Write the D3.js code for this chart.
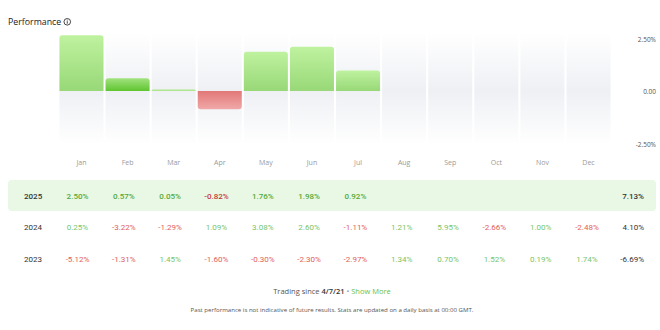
<!DOCTYPE html>
<html><head><meta charset="utf-8">
<script src="https://cdn.jsdelivr.net/npm/d3@7"></script>
<style>
html,body{margin:0;padding:0;background:#fff;}
svg{display:block;}
</style></head>
<body>
<svg id="chart" width="660" height="330"></svg>
<script>
const months = ["Jan","Feb","Mar","Apr","May","Jun","Jul","Aug","Sep","Oct","Nov","Dec"];
const years = ["2025","2024","2023"];
const values2025 = [2.50,0.57,0.05,-0.82,1.76,1.98,0.92,null,null,null,null,null];
const values2024 = [0.25,-3.22,-1.29,1.09,3.08,2.60,-1.11,1.21,5.95,-2.66,1.00,-2.48];
const values2023 = [-5.12,-1.31,1.45,-1.60,-0.30,-2.30,-2.97,1.34,0.70,1.52,0.19,1.74];
const totals = ["7.13%","4.10%","-6.69%"];
const yTicks = [2.5, 0, -2.5];
const yTickLabels = ["2.50%","0.00","-2.50%"];
const highlightMonth = "Feb";

const svg = d3.select("#chart");
const defs = svg.append("defs");
const font = "'Open Sans', sans-serif";
const numFont = "Roboto, sans-serif";

function grad(id, stops){
  const g = defs.append("linearGradient").attr("id",id).attr("x1",0).attr("y1",0).attr("x2",0).attr("y2",1);
  stops.forEach(s=>g.append("stop").attr("offset",s[0]).attr("stop-color",s[1]));
}
grad("colbg",[[0,"#ffffff"],[0.52,"#eef0f4"],[1,"#ffffff"]]);
grad("gpos",[[0,"#bff29f"],[1,"#98d878"]]);
grad("gposHi",[[0,"#a2e27f"],[1,"#5ec52f"]]);
grad("gneg",[[0,"#e27878"],[1,"#f0a8a8"]]);

const x = d3.scaleBand().domain(months).range([59,611]).paddingInner(0.045).paddingOuter(0.01);
const y = d3.scaleLinear().domain([-2.5,2.5]).range([146.75,35.25]);
const yAxisScale = d3.scaleLinear().domain([-2.5,2.5]).range([144,39]);

// title
const title = svg.append("text").attr("x",8).attr("y",25).attr("font-family",font).attr("font-size",8.8).attr("fill","#222").text("Performance");
const tw = title.node().getComputedTextLength();
const ic = svg.append("g").attr("transform",`translate(${8+tw+6},21.8)`);
ic.append("circle").attr("r",3.3).attr("fill","none").attr("stroke","#333").attr("stroke-width",0.9);
ic.append("line").attr("x1",0).attr("x2",0).attr("y1",-0.6).attr("y2",1.9).attr("stroke","#333").attr("stroke-width",0.9);
ic.append("circle").attr("cx",0).attr("cy",-1.7).attr("r",0.5).attr("fill","#333");

// column backgrounds
svg.append("g").selectAll("rect").data(months).join("rect")
  .attr("x",d=>x(d)).attr("width",x.bandwidth())
  .attr("y",y(2.6)).attr("height",y(-2.4)-y(2.6))
  .attr("fill","url(#colbg)");

function roundedBar(x0,w,y0,y1,r){
  const h = Math.abs(y1-y0);
  r = Math.min(r,h,w/2);
  if (y1 < y0){
    return `M${x0},${y0}V${y1+r}Q${x0},${y1} ${x0+r},${y1}H${x0+w-r}Q${x0+w},${y1} ${x0+w},${y1+r}V${y0}Z`;
  } else {
    return `M${x0},${y0}V${y1-r}Q${x0},${y1} ${x0+r},${y1}H${x0+w-r}Q${x0+w},${y1} ${x0+w},${y1-r}V${y0}Z`;
  }
}
const barData = months.map((m,i)=>({m,v:values2025[i]})).filter(d=>d.v!==null);
svg.append("g").selectAll("path").data(barData).join("path")
  .attr("d",d=>{
    const v = Math.abs(d.v) < 0.08 ? (d.v>=0?0.07:-0.07) : d.v;
    return roundedBar(x(d.m), x.bandwidth(), y(0), y(v), 3);
  })
  .attr("fill",d=> d.v<0 ? "url(#gneg)" : (d.m===highlightMonth ? "url(#gposHi)" : (Math.abs(d.v)<0.08 ? "#ade68f" : "url(#gpos)")));

// month labels
svg.append("g").selectAll("text").data(months).join("text")
  .attr("x",d=>x(d)+x.bandwidth()/2).attr("y",165)
  .attr("text-anchor","middle").attr("font-family",font).attr("font-size",7)
  .attr("fill","#9a9a9a").text(d=>d);

// y axis labels
const yAxis = d3.axisLeft(yAxisScale).tickValues(yTicks).tickSize(0).tickPadding(0)
  .tickFormat((d,i)=>yTickLabels[i]);
const ya = svg.append("g").attr("transform","translate(656,0)").call(yAxis);
ya.select(".domain").remove();
ya.selectAll("text").attr("font-family",font).attr("font-size",6.5).attr("fill","#555");

// table
const rowY = d3.scalePoint().domain(years).range([195.5,259]);
const tx = d3.scalePoint().domain(months).range([77.5,587]);
svg.append("rect").attr("x",8).attr("y",180).attr("width",648).attr("height",31).attr("rx",4).attr("fill","#e8f8e4");

const rows = [values2025, values2024, values2023];
years.forEach((yr,ri)=>{
  const g = svg.append("g");
  const cy = rowY(yr) + 3;
  const hi = ri===0;
  g.append("text").attr("x",24).attr("y",cy).attr("font-family",numFont).attr("font-size",8)
    .attr("font-weight",hi?500:400).attr("fill","#333").text(yr);
  const pos = hi ? "#56a93a" : "#78c569";
  const neg = hi ? "#c63a3a" : "#e06060";
  g.selectAll("text.v").data(months.map((m,i)=>({m,v:rows[ri][i]})).filter(d=>d.v!==null)).join("text")
    .attr("class","v").attr("x",d=>tx(d.m)).attr("y",cy).attr("text-anchor","middle")
    .attr("font-family",numFont).attr("font-size",8).attr("font-weight",hi?500:400)
    .attr("fill",d=>d.v<0?neg:pos).text(d=>d.v.toFixed(2)+"%");
  g.append("text").attr("x",644).attr("y",cy).attr("text-anchor","end")
    .attr("font-family",numFont).attr("font-size",8).attr("font-weight",hi?500:400)
    .attr("fill","#333").text(totals[ri]);
});

// footer
const ft = svg.append("text").attr("x",332).attr("y",293.5).attr("text-anchor","middle")
  .attr("font-family",font).attr("font-size",7.5);
ft.append("tspan").attr("fill","#555").text("Trading since ");
ft.append("tspan").attr("fill","#333").attr("font-weight",600).text("4/7/21");
ft.append("tspan").attr("fill","#999").text(" • ");
ft.append("tspan").attr("fill","#6abf4b").text("Show More");

svg.append("text").attr("x",332).attr("y",312).attr("text-anchor","middle")
  .attr("font-family",font).attr("font-size",6.1).attr("fill","#555")
  .text("Past performance is not indicative of future results. Stats are updated on a daily basis at 00:00 GMT.");
</script>
</body></html>
